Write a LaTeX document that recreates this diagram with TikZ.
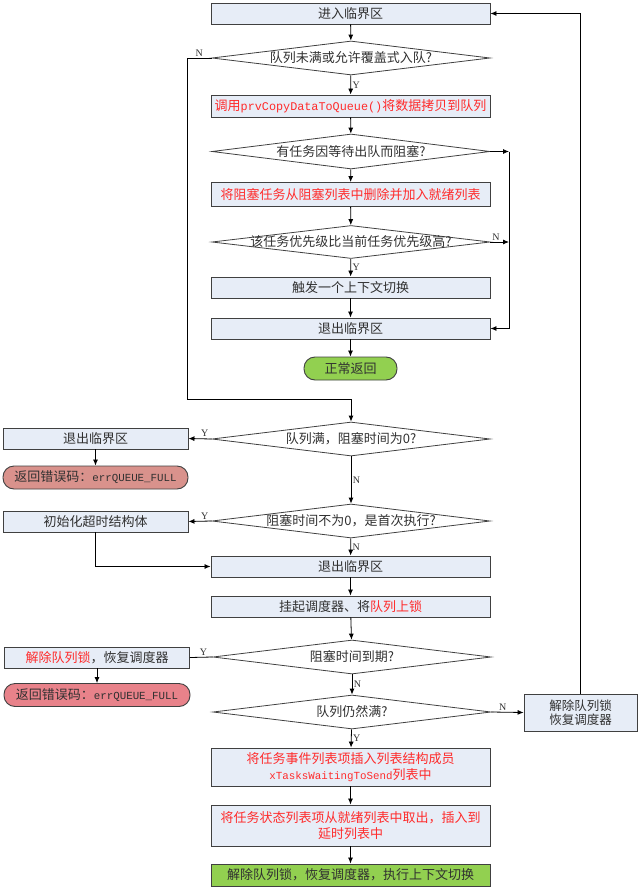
\documentclass[tikz,border=0pt]{standalone}
\usepackage{fontspec}
\setmainfont{Noto Sans CJK SC}
\newfontfamily\monof{Liberation Mono}
\newfontfamily\latf{Liberation Serif}
\usetikzlibrary{shapes.geometric,arrows.meta}
\definecolor{boxfill}{HTML}{E7EDF7}
\definecolor{boxline}{HTML}{404040}
\definecolor{termA}{HTML}{D9928C}
\definecolor{termB}{HTML}{E8828A}
\definecolor{termG}{HTML}{92D050}
\definecolor{redtxt}{HTML}{FF2B2B}
\definecolor{txt}{HTML}{303030}
\newcommand{\rt}[1]{\textcolor{redtxt}{#1}}
\begin{document}
\begin{tikzpicture}[x=1pt,y=-1pt,
  font=\fontsize{13}{16}\selectfont,
  box/.style={draw=boxline, line width=0.9pt, fill=boxfill, minimum width=279pt, minimum height=21pt, inner sep=0pt, text=txt, align=center},
  lbox/.style={box, minimum width=185pt},
  term/.style={draw=boxline, line width=0.9pt, rounded corners=11pt, minimum height=23pt, inner sep=0pt, text=txt},
  dec/.style={diamond, draw=boxline, line width=0.8pt, minimum width=278pt, minimum height=34pt, inner sep=0pt},
  arr/.style={draw=black, line width=0.8pt, -{Latex[length=6pt,width=5pt]}},
  ln/.style={draw=black, line width=0.8pt},
  yn/.style={font=\latf\fontsize{10}{12}\selectfont, text=txt, inner sep=1.5pt},
  dtext/.style={text=txt}
]
\useasboundingbox (0,0) rectangle (638,888);

% main column
\node[box] (b1) at (350.5,13.5) {进入临界区};
\node[dec, label={[dtext]center:队列未满或允许覆盖式入队?}] (d1) at (351,58) {};
\node[box, minimum height=22pt] (b2) at (350.5,106) {\rt{调用{\monof\fontsize{11.8}{14}\selectfont prvCopyDataToQueue()}将数据拷贝到队列}};
\node[dec, minimum height=35pt, label={[dtext]center:有任务因等待出队而阻塞?}] (d2) at (351,151.5) {};
\node[box, minimum height=24pt] (b3) at (350.5,194.5) {\rt{将阻塞任务从阻塞列表中删除并加入就绪列表}};
\node[dec, minimum height=33pt, label={[dtext]center:该任务优先级比当前任务优先级高?}] (d3) at (351,242) {};
\node[box] (b4) at (350.5,287.5) {触发一个上下文切换};
\node[box] (b5) at (350.5,328.5) {退出临界区};
\node[term, fill=termG, minimum width=93pt] (t1) at (350.5,368.5) {正常返回};

\node[dec, label={[dtext]center:队列满，阻塞时间为0?}] (d4) at (351,439) {};
\node[dec, label={[dtext]center:阻塞时间不为0，是首次执行?}] (d5) at (351,521) {};
\node[box] (b6) at (350.5,566.5) {退出临界区};
\node[box] (b7) at (350.5,606.5) {挂起调度器、将\rt{队列上锁}};
\node[dec, label={[dtext]center:阻塞时间到期?}] (d6) at (352,657) {};
\node[dec, label={[dtext]center:队列仍然满?}] (d7) at (352,712) {};
\node[box, minimum height=38pt] (b8) at (350.5,767) {\rt{将任务事件列表项插入列表结构成员}\\\rt{{\monof\fontsize{10.8}{14}\selectfont xTasksWaitingToSend}列表中}};
\node[box, minimum height=41pt] (b9) at (350.5,825.5) {\rt{将任务状态列表项从就绪列表中取出，插入到}\\\rt{延时列表中}};
\node[box, fill=termG, minimum height=22pt] (b10) at (350.5,875) {解除队列锁，恢复调度器，执行上下文切换};

% left column
\node[lbox] (l1) at (95.5,438.5) {退出临界区};
\node[term, fill=termA, minimum width=185pt] (lt1) at (95.5,477.5) {返回错误码：{\monof\fontsize{10.8}{14}\selectfont errQUEUE\_FULL}};
\node[lbox] (l2) at (95.5,521.5) {初始化超时结构体};
\node[lbox] (l3) at (97,657.5) {\rt{解除队列锁}，恢复调度器};
\node[term, fill=termB, minimum width=186pt] (lt2) at (97,695) {返回错误码：{\monof\fontsize{10.8}{14}\selectfont errQUEUE\_FULL}};

% right box
\node[box, minimum width=113pt, minimum height=37pt, font=\fontsize{12.5}{14}\selectfont] (r1) at (580.5,712.5) {解除队列锁\\恢复调度器};

% coordinates
\coordinate (lA) at (187,399);
\coordinate (rj2) at (509,151.5);
\coordinate (rj3) at (509,242);

% connectors
\draw[arr] (b1) -- (d1);
\draw[arr] (d1) -- node[right,yn]{Y} (b2);
\draw[arr] (b2) -- (d2);
\draw[arr] (d2) -- (b3);
\draw[arr] (b3) -- (d3);
\draw[arr] (d3) -- node[right,yn]{Y} (b4);
\draw[arr] (b4) -- (b5);
\draw[arr] (b5) -- (t1);
\draw[arr] (d2.east) -- (rj2);
\draw[arr] (d3.east) -- node[pos=0.3,above,yn]{N} (rj3);
\draw[arr] (rj2) |- (b5.east);
\draw[arr] (d1.west) -- node[pos=0.5,above,yn]{N} (d1.west -| lA) -- (lA) -- (lA -| d4.north) -- (d4.north);

\draw[arr] (d4.west) -- node[pos=0.3,above,yn]{Y} (l1.east);
\draw[arr] (l1) -- (lt1);
\draw[arr] (d4) -- node[right,yn]{N} (d5);
\draw[arr] (d5.west) -- node[pos=0.3,above,yn]{Y} (l2.east);
\draw[arr] (l2.south) |- (b6.west);
\draw[arr] (d5) -- node[right,yn]{N} (b6);
\draw[arr] (b6) -- (b7);
\draw[arr] (b7) -- (d6);
\draw[ln] (d6.west) -- node[pos=0.4,above,yn]{Y} (l3.east);
\draw[arr] (l3) -- (lt2);
\draw[arr] (d6) -- node[right,yn]{N} (d7);
\draw[arr] (d7.east) -- node[pos=0.35,above,yn]{N} (r1.west);
\draw[arr] (r1.north) |- (b1.east);
\draw[arr] (d7) -- node[right,yn]{Y} (b8);
\draw[arr] (b8) -- (b9);
\draw[arr] (b9) -- (b10);
\end{tikzpicture}
\end{document}
